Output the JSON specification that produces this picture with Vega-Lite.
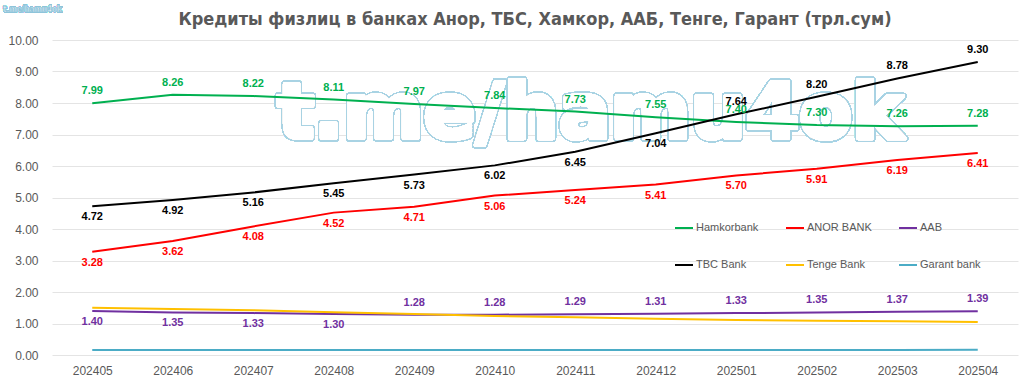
{
  "$schema": "https://vega.github.io/schema/vega-lite/v6.json",
  "width": 966,
  "height": 315,
  "autosize": {"type": "none"},
  "padding": {"left": 52, "top": 40, "right": 6, "bottom": 24},
  "background": "white",
  "title": {
    "text": "Кредиты физлиц в банках Анор, ТБС, Хамкор, ААБ, Тенге, Гарант (трл.сум)",
    "font": "'DejaVu Sans Condensed', 'Liberation Sans'",
    "fontSize": 18,
    "fontWeight": "bold",
    "color": "#595959",
    "anchor": "middle",
    "offset": 10,
    "dy": 33
  },
  "config": {
    "view": {"stroke": null},
    "font": "Liberation Sans"
  },
  "data": {
    "values": [
      {"date": "202405", "series": "Hamkorbank", "value": 7.99},
      {"date": "202406", "series": "Hamkorbank", "value": 8.26},
      {"date": "202407", "series": "Hamkorbank", "value": 8.22},
      {"date": "202408", "series": "Hamkorbank", "value": 8.11},
      {"date": "202409", "series": "Hamkorbank", "value": 7.97},
      {"date": "202410", "series": "Hamkorbank", "value": 7.84},
      {"date": "202411", "series": "Hamkorbank", "value": 7.73},
      {"date": "202412", "series": "Hamkorbank", "value": 7.55},
      {"date": "202501", "series": "Hamkorbank", "value": 7.40},
      {"date": "202502", "series": "Hamkorbank", "value": 7.30},
      {"date": "202503", "series": "Hamkorbank", "value": 7.26},
      {"date": "202504", "series": "Hamkorbank", "value": 7.28},
      {"date": "202405", "series": "ANOR BANK", "value": 3.28},
      {"date": "202406", "series": "ANOR BANK", "value": 3.62},
      {"date": "202407", "series": "ANOR BANK", "value": 4.08},
      {"date": "202408", "series": "ANOR BANK", "value": 4.52},
      {"date": "202409", "series": "ANOR BANK", "value": 4.71},
      {"date": "202410", "series": "ANOR BANK", "value": 5.06},
      {"date": "202411", "series": "ANOR BANK", "value": 5.24},
      {"date": "202412", "series": "ANOR BANK", "value": 5.41},
      {"date": "202501", "series": "ANOR BANK", "value": 5.70},
      {"date": "202502", "series": "ANOR BANK", "value": 5.91},
      {"date": "202503", "series": "ANOR BANK", "value": 6.19},
      {"date": "202504", "series": "ANOR BANK", "value": 6.41},
      {"date": "202405", "series": "AAB", "value": 1.40},
      {"date": "202406", "series": "AAB", "value": 1.35},
      {"date": "202407", "series": "AAB", "value": 1.33},
      {"date": "202408", "series": "AAB", "value": 1.30},
      {"date": "202409", "series": "AAB", "value": 1.28},
      {"date": "202410", "series": "AAB", "value": 1.28},
      {"date": "202411", "series": "AAB", "value": 1.29},
      {"date": "202412", "series": "AAB", "value": 1.31},
      {"date": "202501", "series": "AAB", "value": 1.33},
      {"date": "202502", "series": "AAB", "value": 1.35},
      {"date": "202503", "series": "AAB", "value": 1.37},
      {"date": "202504", "series": "AAB", "value": 1.39},
      {"date": "202405", "series": "TBC Bank", "value": 4.72},
      {"date": "202406", "series": "TBC Bank", "value": 4.92},
      {"date": "202407", "series": "TBC Bank", "value": 5.16},
      {"date": "202408", "series": "TBC Bank", "value": 5.45},
      {"date": "202409", "series": "TBC Bank", "value": 5.73},
      {"date": "202410", "series": "TBC Bank", "value": 6.02},
      {"date": "202411", "series": "TBC Bank", "value": 6.45},
      {"date": "202412", "series": "TBC Bank", "value": 7.04},
      {"date": "202501", "series": "TBC Bank", "value": 7.64},
      {"date": "202502", "series": "TBC Bank", "value": 8.20},
      {"date": "202503", "series": "TBC Bank", "value": 8.78},
      {"date": "202504", "series": "TBC Bank", "value": 9.30},
      {"date": "202405", "series": "Tenge Bank", "value": 1.50},
      {"date": "202406", "series": "Tenge Bank", "value": 1.46},
      {"date": "202407", "series": "Tenge Bank", "value": 1.42},
      {"date": "202408", "series": "Tenge Bank", "value": 1.36},
      {"date": "202409", "series": "Tenge Bank", "value": 1.30},
      {"date": "202410", "series": "Tenge Bank", "value": 1.24},
      {"date": "202411", "series": "Tenge Bank", "value": 1.20},
      {"date": "202412", "series": "Tenge Bank", "value": 1.15},
      {"date": "202501", "series": "Tenge Bank", "value": 1.11},
      {"date": "202502", "series": "Tenge Bank", "value": 1.09},
      {"date": "202503", "series": "Tenge Bank", "value": 1.07},
      {"date": "202504", "series": "Tenge Bank", "value": 1.05},
      {"date": "202405", "series": "Garant bank", "value": 0.16},
      {"date": "202406", "series": "Garant bank", "value": 0.16},
      {"date": "202407", "series": "Garant bank", "value": 0.16},
      {"date": "202408", "series": "Garant bank", "value": 0.16},
      {"date": "202409", "series": "Garant bank", "value": 0.16},
      {"date": "202410", "series": "Garant bank", "value": 0.16},
      {"date": "202411", "series": "Garant bank", "value": 0.16},
      {"date": "202412", "series": "Garant bank", "value": 0.16},
      {"date": "202501", "series": "Garant bank", "value": 0.16},
      {"date": "202502", "series": "Garant bank", "value": 0.16},
      {"date": "202503", "series": "Garant bank", "value": 0.16},
      {"date": "202504", "series": "Garant bank", "value": 0.17}
    ]
  },
  "encoding": {
    "x": {
      "field": "date",
      "type": "ordinal",
      "scale": {"type": "point", "padding": 0.5},
      "axis": {
        "title": null,
        "labelAngle": 0,
        "labelFontSize": 12,
        "labelColor": "#595959",
        "labelPadding": 10,
        "ticks": false,
        "domain": false,
        "grid": false
      }
    },
    "y": {
      "field": "value",
      "type": "quantitative",
      "scale": {"domain": [0, 10], "nice": false},
      "axis": {
        "title": null,
        "values": [0, 1, 2, 3, 4, 5, 6, 7, 8, 9, 10],
        "format": ".2f",
        "labelFontSize": 12,
        "labelColor": "#595959",
        "labelPadding": 14,
        "ticks": false,
        "domain": false,
        "gridColor": "#e4e4e4",
        "gridWidth": 1
      }
    }
  },
  "layer": [
    {
      "mark": {
        "type": "text",
        "text": "t.me/hamu4ok",
        "font": "DejaVu Sans",
        "fontWeight": "bold",
        "fontSize": 77,
        "fill": "none",
        "stroke": "#a9d3e3",
        "strokeWidth": 7,
        "strokeJoin": "round",
        "align": "center",
        "baseline": "alphabetic",
        "dx": 15
      },
      "encoding": {
        "x": {"datum": "202411"},
        "y": {"datum": 6.9}
      }
    },
    {
      "mark": {
        "type": "text",
        "text": "t.me/hamu4ok",
        "font": "DejaVu Sans",
        "fontWeight": "bold",
        "fontSize": 77,
        "fill": "white",
        "fillOpacity": 0.6,
        "stroke": "white",
        "strokeWidth": 4,
        "strokeJoin": "round",
        "align": "center",
        "baseline": "alphabetic",
        "dx": 15
      },
      "encoding": {
        "x": {"datum": "202411"},
        "y": {"datum": 6.9}
      }
    },
    {
      "mark": {
        "type": "text",
        "text": "t.me/hamu4ok",
        "font": "DejaVu Sans Condensed",
        "fontWeight": "bold",
        "fontSize": 8,
        "fill": "white",
        "stroke": "#8ec4da",
        "strokeWidth": 0.7,
        "align": "left",
        "baseline": "middle",
        "dx": -89
      },
      "encoding": {
        "x": {"datum": "202405"},
        "y": {"datum": 10.95}
      }
    },
    {
      "mark": {"type": "line", "strokeWidth": 2},
      "encoding": {
        "color": {
          "field": "series",
          "type": "nominal",
          "sort": ["Hamkorbank", "ANOR BANK", "AAB", "TBC Bank", "Tenge Bank", "Garant bank"],
          "scale": {
            "domain": ["Hamkorbank", "ANOR BANK", "AAB", "TBC Bank", "Tenge Bank", "Garant bank"],
            "range": ["#00b050", "#ff0000", "#7030a0", "#000000", "#ffc000", "#4bacc6"]
          },
          "legend": {
            "title": null,
            "orient": "none",
            "legendX": 622,
            "legendY": 178,
            "columns": 3,
            "direction": "horizontal",
            "symbolType": "stroke",
            "symbolSize": 324,
            "symbolStrokeWidth": 2,
            "labelFontSize": 11,
            "labelColor": "#595959",
            "labelOffset": 2,
            "columnPadding": 23,
            "rowPadding": 22
          }
        }
      }
    },
    {
      "transform": [
        {"filter": "datum.series == 'Hamkorbank' || (datum.series == 'TBC Bank' && datum.date >= '202501') || (datum.series == 'AAB' && datum.date >= '202409')"}
      ],
      "mark": {"type": "text", "dy": -12, "fontSize": 11, "fontWeight": "bold"},
      "encoding": {
        "text": {"field": "value", "type": "quantitative", "format": ".2f"},
        "color": {"field": "series", "type": "nominal", "legend": null,
          "scale": {
            "domain": ["Hamkorbank", "ANOR BANK", "AAB", "TBC Bank", "Tenge Bank", "Garant bank"],
            "range": ["#00b050", "#ff0000", "#7030a0", "#262626", "#ffc000", "#4bacc6"]
          }}
      }
    },
    {
      "transform": [
        {"filter": "datum.series == 'ANOR BANK' || (datum.series == 'TBC Bank' && datum.date < '202501') || (datum.series == 'AAB' && datum.date < '202409')"}
      ],
      "mark": {"type": "text", "dy": 11, "fontSize": 11, "fontWeight": "bold"},
      "encoding": {
        "text": {"field": "value", "type": "quantitative", "format": ".2f"},
        "color": {"field": "series", "type": "nominal", "legend": null,
          "scale": {
            "domain": ["Hamkorbank", "ANOR BANK", "AAB", "TBC Bank", "Tenge Bank", "Garant bank"],
            "range": ["#00b050", "#ff0000", "#7030a0", "#262626", "#ffc000", "#4bacc6"]
          }}
      }
    }
  ],
  "resolve": {"scale": {"color": "shared"}}
}
